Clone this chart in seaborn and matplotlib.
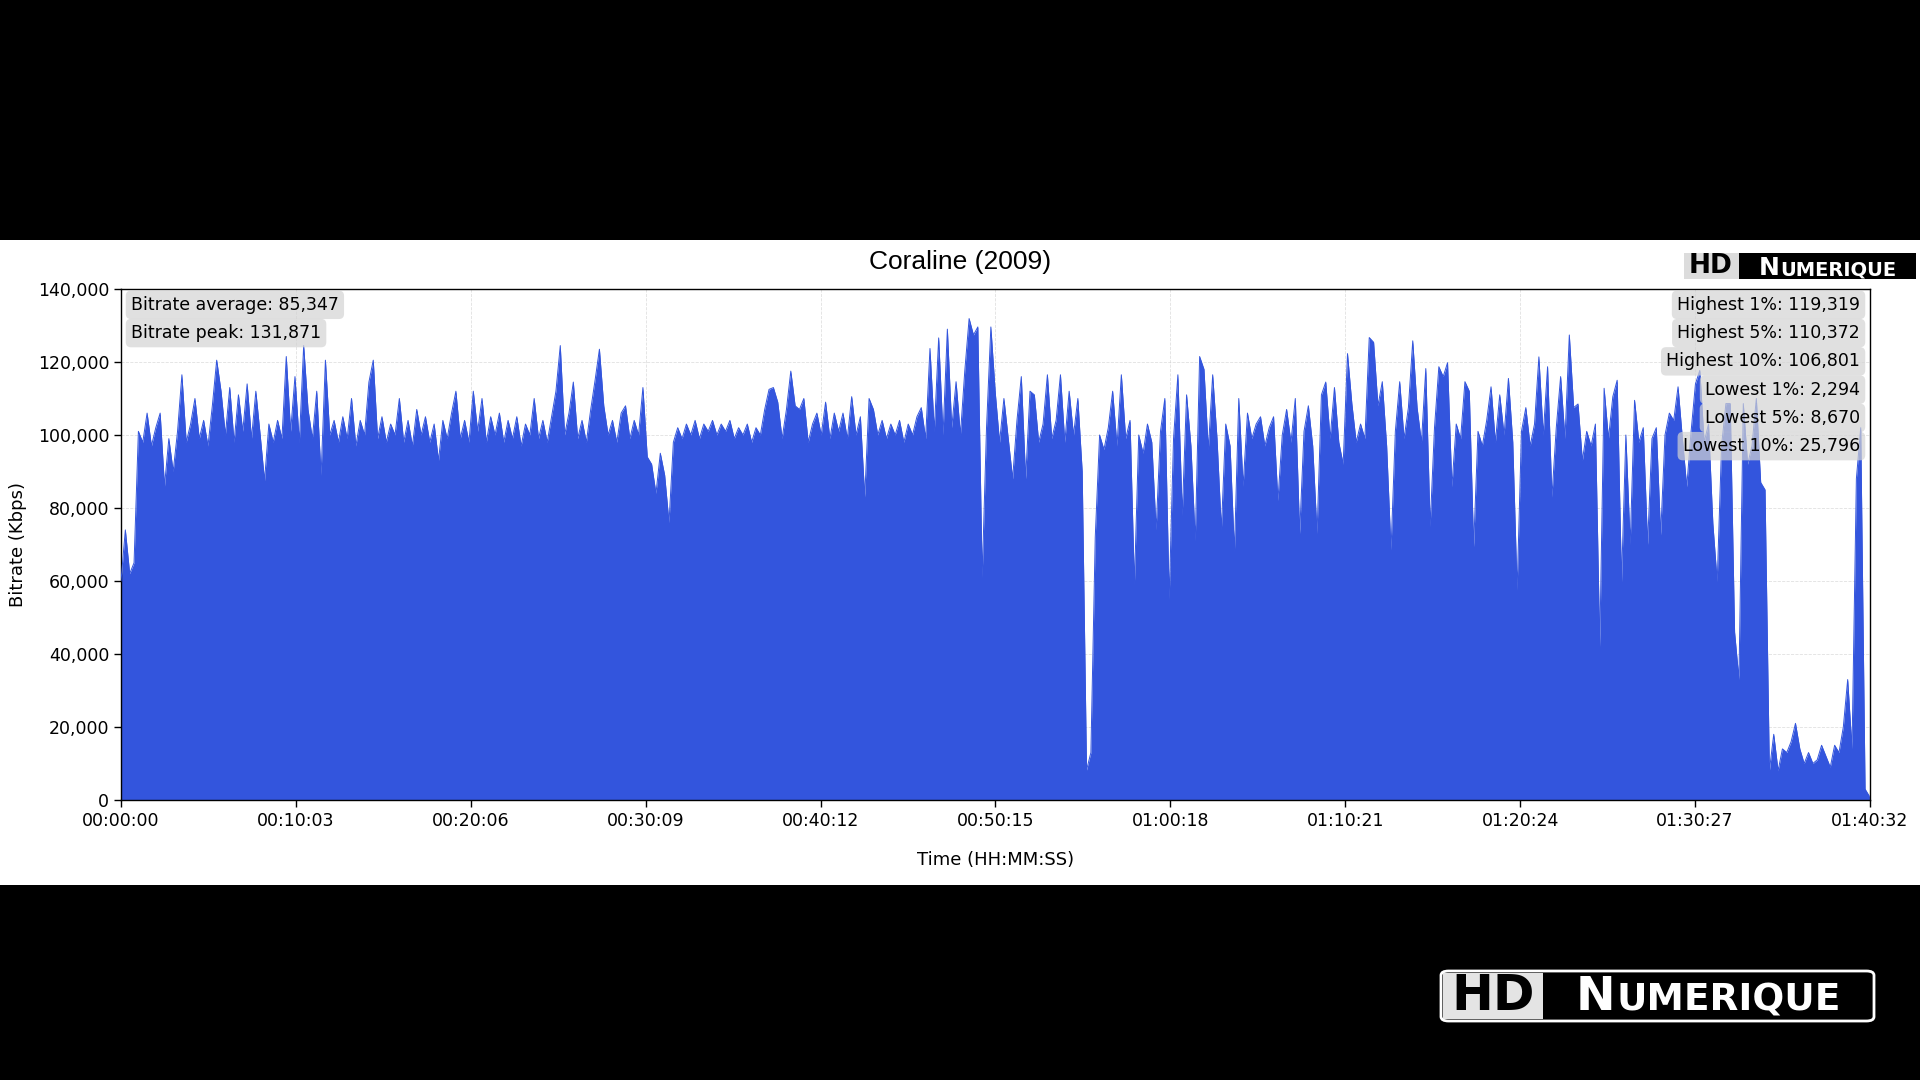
import numpy as np
import matplotlib
matplotlib.use("Agg")
import matplotlib.pyplot as plt
from matplotlib.patches import Rectangle, FancyBboxPatch
from matplotlib.ticker import FuncFormatter
import seaborn as sns

TITLE = "Coraline (2009)"
STEP_S = 15          # one reading every 15 seconds
DURATION_S = 6032    # 01:40:32

# bitrate in thousands of Kbps, every 15 s
bitrate_k = [
    60, 74, 62, 65,
    101, 98, 106, 97, 102, 106, 86, 99, 90, 101,
    116.5, 98, 103, 110, 99, 104, 97, 108, 120.5, 112,
    100, 113, 98, 111, 101, 114, 99, 112, 100, 87.5,
    103, 98, 104, 99, 121.5, 101, 116, 98, 124.5, 107,
    99, 112, 89, 120.5, 100, 104, 98, 105, 99, 110,
    97, 104, 100, 114.5, 120.5, 99, 105, 98, 103, 100,
    110, 98, 104, 97, 107, 100, 105, 98, 103, 93,
    104, 99, 106, 112, 99, 104, 98, 112, 101, 110,
    98, 105, 100, 106, 98, 104, 99, 105, 97, 103,
    100, 110, 99, 104, 98, 105, 112, 124.5, 100, 106,
    114.5, 99, 104, 98, 107, 115, 123.5, 108, 100, 104,
    98, 106, 108, 99, 104, 100, 113,
    # ~00:30
    94, 92, 84, 95, 89, 76, 98, 102, 99, 103,
    100, 104, 99, 103, 101, 104, 100, 103, 101, 104,
    99, 102, 100, 103, 98, 102, 100,
    107, 112.5, 113, 109, 99, 107, 117.5, 108, 107, 110,
    98, 103, 106, 100, 109, 99, 106, 101, 106, 99,
    110.5, 100, 105, 83, 110, 107,
    100, 104, 99, 103, 100, 104, 98, 103, 100, 105,
    # ~00:46 - peak area
    107.5, 99, 123.7, 101, 126.6, 100, 129, 102, 114.6, 100,
    117.5, 131.9, 127.4, 129.6, 61, 102, 129.6, 111.8,
    98, 110, 99, 88, 104, 116, 88, 112, 111, 98,
    103, 116.5, 99, 104, 116.5, 98, 112, 100, 110,
    # ~00:55 dip
    90, 8.2, 13, 72,
    100, 96, 102, 112, 97, 116.5, 99, 104, 59, 100,
    95, 103, 98, 74, 101, 110, 55, 99, 116.5, 78,
    111, 97, 71, 121.5, 118, 96, 116.5, 99, 74, 103,
    97, 68, 110, 86, 106, 99, 103, 105, 97, 102,
    105, 82, 100, 107, 98, 110, 73, 101, 108, 97,
    73, 111, 114.5, 99, 113, 98,
    # ~01:10
    92, 122.3, 108.6, 98, 103, 99, 126.7, 125.4, 108, 114.6,
    97, 68.5, 101, 114.6, 99, 107.5, 125.8, 107.5, 98, 118.2,
    74.9, 102, 118.7, 116, 119.8, 85.8, 103, 99, 114.6, 112,
    69.4, 101, 97, 104, 113.2, 98, 111, 100, 115.5, 98,
    57.5, 101, 107.5, 97, 103, 121.4, 100, 118.7, 83, 102,
    116, 99, 127.4, 107.5, 108.5, 93, 101, 97, 103, 42,
    112.8, 99, 110.5, 115, 59.8, 100, 70, 109.5, 98, 102,
    70, 99, 102, 72.6, 100, 106, 104, 113.2, 99, 85.8,
    101, 114, 117.7, 98, 103, 75.8, 59.8, 97, 108.6, 108.6,
    46, 33, 108.6, 92, 97, 110, 87, 85,
    # end credits
    8, 18, 8, 14, 13, 16, 21, 14, 10, 13,
    10, 11, 15, 12, 9, 15, 13, 20, 33, 14,
    88, 102, 3, 1,
]

time_labels = ["00:00:00", "00:10:03", "00:20:06", "00:30:09", "00:40:12", "00:50:15",
               "01:00:18", "01:10:21", "01:20:24", "01:30:27", "01:40:32"]
y_ticks = [0, 20000, 40000, 60000, 80000, 100000, 120000, 140000]

left_notes = ["Bitrate average: 85,347", "Bitrate peak: 131,871"]
right_notes = ["Highest 1%: 119,319", "Highest 5%: 110,372", "Highest 10%: 106,801",
               "Lowest 1%: 2,294", "Lowest 5%: 8,670", "Lowest 10%: 25,796"]

BLUE = "#3355dd"
W, H = 1920, 1080

sns.set_theme(style="ticks")
plt.rcParams["font.family"] = ["DejaVu Sans"]

fig = plt.figure(figsize=(W / 100, H / 100), dpi=100, facecolor="black")
# white band the chart sits on
fig.add_artist(Rectangle((0, 1 - 885 / H), 1, (885 - 240) / H, transform=fig.transFigure,
                         facecolor="white", edgecolor="none", zorder=-10))

ax = fig.add_axes([121 / W, 1 - 800 / H, (1870 - 121) / W, (800 - 289) / H])
ax.set_facecolor("white")

t = np.arange(len(bitrate_k)) * STEP_S
kbps = np.array(bitrate_k) * 1000
ax.fill_between(t, 0, kbps, color=BLUE, linewidth=0, zorder=2)
sns.lineplot(x=t, y=kbps, ax=ax, color=BLUE, linewidth=0.7, zorder=3)

ax.set_xlim(0, DURATION_S)
ax.set_ylim(0, 140000)
ax.set_xticks(np.linspace(0, DURATION_S, len(time_labels)))
ax.set_xticklabels(time_labels)
ax.set_yticks(y_ticks)
ax.yaxis.set_major_formatter(FuncFormatter(lambda v, _: f"{int(v):,}"))
ax.tick_params(labelsize=12.5, length=5, width=1, color="black", labelcolor="black")
ax.grid(True, linestyle="--", linewidth=0.6, color="#cccccc", alpha=0.6)
ax.set_axisbelow(True)
for s in ax.spines.values():
    s.set_visible(True)
    s.set_color("black")
    s.set_linewidth(1)

ax.set_xlabel("Time (HH:MM:SS)", fontsize=13, color="black")
ax.xaxis.set_label_coords(0.5, -0.0998)
ax.set_ylabel("Bitrate (Kbps)", fontsize=13, color="black")
ax.yaxis.set_label_coords(-0.0537, 0.5)

fig.text(0.5, 1 - 262 / H, TITLE, ha="center", va="center", fontsize=19,
         family=["Liberation Sans", "DejaVu Sans"], color="black")

box = dict(boxstyle="round,pad=0.3", fc="lightgray", ec="none", alpha=0.7)
for k, s in enumerate(left_notes):
    ax.text(0.0057, 0.969 - k * 0.0553, s, transform=ax.transAxes, ha="left", va="center",
            fontsize=12.5, color="black", bbox=box, zorder=5)
for k, s in enumerate(right_notes):
    ax.text(0.9943, 0.969 - k * 0.0553, s, transform=ax.transAxes, ha="right", va="center",
            fontsize=12.5, color="black", bbox=box, zorder=5)


# --- HD Numerique logos (pixel coordinates, y from top) ---
def fig_rect(x0, y0, x1, y1, **kw):
    fig.add_artist(Rectangle((x0 / W, 1 - y1 / H), (x1 - x0) / W, (y1 - y0) / H,
                             transform=fig.transFigure, **kw))


def logo_word(cx, base_y, big, small, color):
    r = fig.canvas.get_renderer()
    y = 1 - base_y / H
    t1 = fig.text(0, y, "N", fontsize=big, fontweight="bold", color=color, va="baseline", ha="left")
    t2 = fig.text(0, y, "UMERIQUE", fontsize=small, fontweight="bold", color=color,
                  va="baseline", ha="left")
    w1 = t1.get_window_extent(r).width
    w2 = t2.get_window_extent(r).width
    x0 = cx - (w1 + w2) / 2
    t1.set_x(x0 / W)
    t2.set_x((x0 + w1 + 1) / W)


# small logo on the white band
fig_rect(1684, 253, 1739, 279, facecolor="#dcdcdc", edgecolor="none")
fig_rect(1739, 253, 1916, 279, facecolor="black", edgecolor="none")
fig.text(1711 / W, 1 - 266 / H, "HD", fontsize=19, fontweight="bold", color="black",
         ha="center", va="center")
logo_word(1827, 275, 18, 14, "white")

# large logo on the black bottom band
fig.add_artist(FancyBboxPatch((1441 / W, 1 - 1021 / H), (1874 - 1441) / W, 50 / H,
                              boxstyle="round,pad=0,rounding_size=0.004",
                              transform=fig.transFigure, facecolor="black",
                              edgecolor="white", linewidth=2))
fig_rect(1443, 973, 1543, 1019, facecolor="#e4e4e4", edgecolor="none")
fig.text(1493 / W, 1 - 996 / H, "HD", fontsize=36, fontweight="bold", color="black",
         ha="center", va="center")
logo_word(1708, 1010, 34, 27, "white")

fig.savefig("out.png", dpi=100, facecolor="black")
